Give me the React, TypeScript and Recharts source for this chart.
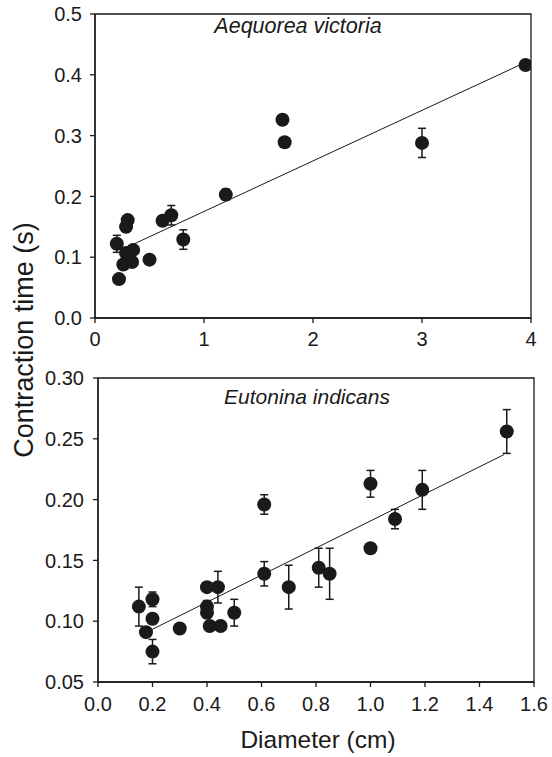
import React from 'react';
import { ScatterChart, Scatter, XAxis, YAxis, ErrorBar, ReferenceLine, ReferenceArea } from 'recharts';

// Aequorea victoria
const topX = [0.20, 0.22, 0.26, 0.285, 0.285, 0.30, 0.34, 0.35, 0.50, 0.62, 0.70, 0.81, 1.20, 1.72, 1.74, 3.00, 3.95];
const topY = [0.122, 0.064, 0.088, 0.107, 0.150, 0.161, 0.092, 0.112, 0.096, 0.160, 0.169, 0.129, 0.203, 0.326, 0.289, 0.288, 0.416];
const topErr = [0.014, 0, 0, 0, 0.008, 0, 0, 0, 0, 0, 0.016, 0.016, 0.009, 0, 0, 0.024, 0];
const topFitX = [0.30, 3.92];
const topFitY = [0.117, 0.418];
const topXTicks = [0, 1, 2, 3, 4];
const topYTicks = [0, 0.1, 0.2, 0.3, 0.4, 0.5];

// Eutonina indicans
const botX = [0.15, 0.176, 0.20, 0.20, 0.20, 0.30, 0.40, 0.40, 0.40, 0.41, 0.44, 0.45, 0.50, 0.61, 0.61, 0.70, 0.81, 0.85, 1.00, 1.00, 1.09, 1.19, 1.50];
const botY = [0.112, 0.091, 0.118, 0.102, 0.075, 0.094, 0.128, 0.112, 0.107, 0.096, 0.128, 0.096, 0.107, 0.139, 0.196, 0.128, 0.144, 0.139, 0.213, 0.160, 0.184, 0.208, 0.256];
const botErr = [0.016, 0, 0.006, 0.004, 0.010, 0, 0, 0.005, 0.004, 0, 0.013, 0, 0.011, 0.010, 0.008, 0.018, 0.016, 0.021, 0.011, 0, 0.008, 0.016, 0.018];
const botFitX = [0.176, 1.49];
const botFitY = [0.0907, 0.237];
const botXTicks = [0, 0.2, 0.4, 0.6, 0.8, 1.0, 1.2, 1.4, 1.6];
const botYTicks = [0.05, 0.10, 0.15, 0.20, 0.25, 0.30];

const topTitle = 'Aequorea victoria';
const botTitle = 'Eutonina indicans';
const yLabel = 'Contraction time (s)';
const xLabel = 'Diameter (cm)';

const INK = '#1a1a1a';
const FONT = '"Liberation Sans", Arial, Helvetica, sans-serif';

const topData = topX.map((x, i) => ({ x, y: topY[i], err: topErr[i] }));
const botData = botX.map((x, i) => ({ x, y: botY[i], err: botErr[i] }));

const Dot = (props: any) => <circle cx={props.cx} cy={props.cy} r={7} fill={INK} />;

const tickStyle = { fontSize: 20, fill: INK, fontFamily: FONT };

export default function App() {
  return (
    <div style={{ position: 'absolute', left: 0, top: 0, width: 552, height: 757, background: '#fff', fontFamily: FONT }}>
      <div style={{ position: 'absolute', left: 0, top: 0 }}>
        <ScatterChart width={552} height={360} margin={{ top: 14, right: 21, bottom: 0, left: 35 }}>
          <XAxis
            type="number"
            dataKey="x"
            domain={[0, 4]}
            ticks={topXTicks}
            allowDataOverflow
            height={42}
            tickSize={5}
            tickMargin={9}
            tick={tickStyle}
            stroke={INK}
            strokeWidth={1.3}
            tickFormatter={(v: number) => String(v)}
          />
          <YAxis
            type="number"
            dataKey="y"
            domain={[0, 0.5]}
            ticks={topYTicks}
            allowDataOverflow
            width={60}
            tickSize={5}
            tickMargin={8}
            tick={tickStyle}
            stroke={INK}
            strokeWidth={1.3}
            tickFormatter={(v: number) => v.toFixed(1)}
          />
          <ReferenceArea x1={0} x2={4} y1={0} y2={0.5} fill="none" stroke={INK} strokeWidth={1.3} />
          <ReferenceLine
            segment={[{ x: topFitX[0], y: topFitY[0] }, { x: topFitX[1], y: topFitY[1] }]}
            stroke={INK}
            strokeWidth={1}
          />
          <Scatter data={topData} shape={Dot} isAnimationActive={false}>
            <ErrorBar dataKey="err" direction="y" width={4} stroke={INK} strokeWidth={1.5} />
          </Scatter>
        </ScatterChart>
      </div>
      <div style={{ position: 'absolute', left: 0, top: 360 }}>
        <ScatterChart width={552} height={397} margin={{ top: 18, right: 18, bottom: 35, left: 38 }}>
          <XAxis
            type="number"
            dataKey="x"
            domain={[0, 1.6]}
            ticks={botXTicks}
            allowDataOverflow
            height={40}
            tickSize={5}
            tickMargin={10}
            tick={tickStyle}
            stroke={INK}
            strokeWidth={1.3}
            tickFormatter={(v: number) => v.toFixed(1)}
          />
          <YAxis
            type="number"
            dataKey="y"
            domain={[0.05, 0.3]}
            ticks={botYTicks}
            allowDataOverflow
            width={60}
            tickSize={5}
            tickMargin={9}
            tick={tickStyle}
            stroke={INK}
            strokeWidth={1.3}
            tickFormatter={(v: number) => v.toFixed(2)}
          />
          <ReferenceArea x1={0} x2={1.6} y1={0.05} y2={0.3} fill="none" stroke={INK} strokeWidth={1.3} />
          <ReferenceLine
            segment={[{ x: botFitX[0], y: botFitY[0] }, { x: botFitX[1], y: botFitY[1] }]}
            stroke={INK}
            strokeWidth={1}
          />
          <Scatter data={botData} shape={Dot} isAnimationActive={false}>
            <ErrorBar dataKey="err" direction="y" width={4} stroke={INK} strokeWidth={1.5} />
          </Scatter>
        </ScatterChart>
      </div>
      <svg width={552} height={757} style={{ position: 'absolute', left: 0, top: 0, pointerEvents: 'none' }}>
        <text x={298} y={33} textAnchor="middle" fontSize={21.5} fontStyle="italic" fill={INK} fontFamily={FONT}>{topTitle}</text>
        <text x={307} y={404} textAnchor="middle" fontSize={21} fontStyle="italic" fill={INK} fontFamily={FONT}>{botTitle}</text>
        <text x={318} y={748} textAnchor="middle" fontSize={24.5} fill={INK} fontFamily={FONT}>{xLabel}</text>
        <text transform="translate(33,340) rotate(-90)" textAnchor="middle" fontSize={27} fill={INK} fontFamily={FONT}>{yLabel}</text>
      </svg>
    </div>
  );
}
